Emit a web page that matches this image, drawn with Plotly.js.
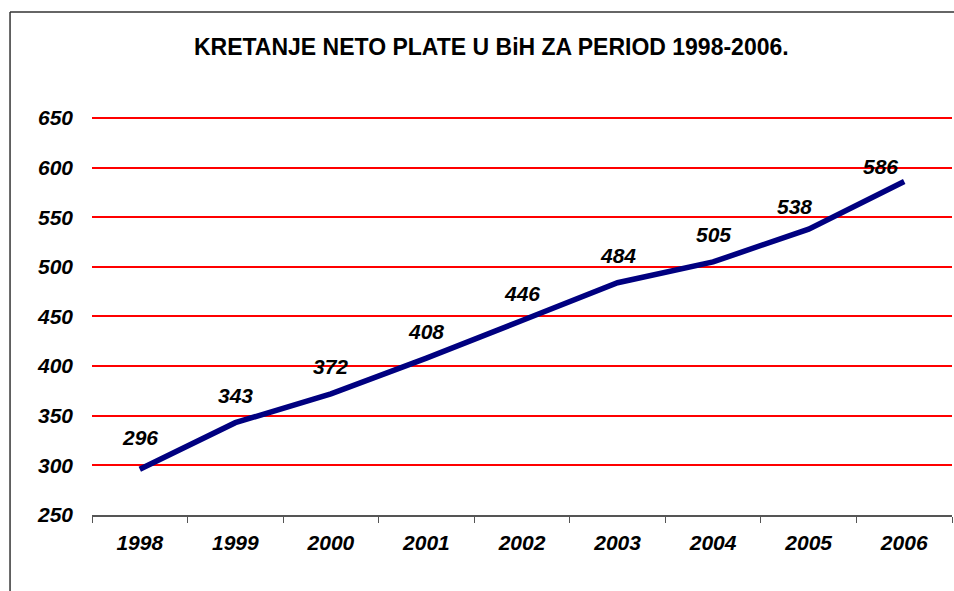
<!DOCTYPE html>
<html>
<head>
<meta charset="utf-8">
<script src="https://cdn.plot.ly/plotly-3.0.1.min.js"></script>
<style>html,body{margin:0;padding:0;background:#fff;}#chart{width:954px;height:591px;}</style>
</head>
<body>
<div id="chart"></div>
<script>
const years = ['1998','1999','2000','2001','2002','2003','2004','2005','2006'];
const netSalary = [296, 343, 372, 408, 446, 484, 505, 538, 586];
const yTicks = [250, 300, 350, 400, 450, 500, 550, 600, 650];

const fontFam = 'Liberation Sans, Arial, sans-serif';
function labelFont(sz) { return {family: fontFam, size: sz, color: '#000', weight: 'bold', style: 'italic'}; }

const trace = {
  x: years, y: netSalary, type: 'scatter', mode: 'lines',
  line: {color: '#000080', width: 5.5},
  hoverinfo: 'skip'
};

const last = years.length - 1;
const annotations = years.map((yr, i) => ({
  x: i, y: netSalary[i], xref: 'x', yref: 'y',
  text: String(netSalary[i]), showarrow: false,
  xanchor: 'center', yanchor: 'middle',
  yshift: i === last ? 15 : (i === last - 1 ? 23 : (i === 0 ? 32 : 27)),
  xshift: i === last ? -24 : (i === last - 1 ? -14 : 0),
  font: labelFont(21)
}));

const layout = {
  width: 954, height: 591,
  margin: {l: 92, r: 2, t: 116, b: 76},
  paper_bgcolor: '#fff', plot_bgcolor: '#fff',
  showlegend: false,
  title: {
    text: 'KRETANJE NETO PLATE U BiH ZA PERIOD 1998-2006.',
    font: {family: fontFam, size: 23, color: '#000', weight: 'bold'},
    x: 0.515, xanchor: 'center', y: 0.92, yanchor: 'middle'
  },
  xaxis: {
    type: 'category', range: [-0.5, 8.5],
    tickson: 'boundaries', ticks: 'outside', ticklen: 6, tickcolor: '#555', tickwidth: 1,
    showline: true, linecolor: '#555', linewidth: 1.5,
    showgrid: false, zeroline: false,
    tickfont: labelFont(21), ticklabelstandoff: 8,
    fixedrange: true
  },
  yaxis: {
    range: [250, 652], tickvals: yTicks, ticktext: yTicks.map(String),
    showline: false, ticks: '', showgrid: true, gridcolor: '#ff0000', gridwidth: 2,
    zeroline: false, tickfont: labelFont(21), ticklabelstandoff: 18,
    fixedrange: true
  },
  shapes: [
    {type: 'line', xref: 'paper', yref: 'y', x0: 0, x1: 1, y0: yTicks[yTicks.length - 1], y1: yTicks[yTicks.length - 1],
     line: {color: '#ff0000', width: 2}, layer: 'below'},
    {type: 'line', xref: 'paper', yref: 'paper', x0: -0.0953, x1: 1.01, y0: 1.2607, y1: 1.2607,
     line: {color: '#333', width: 1.5}},
    {type: 'line', xref: 'paper', yref: 'paper', x0: -0.0953, x1: -0.0953, y0: 1.2607, y1: -0.2,
     line: {color: '#333', width: 1.5}}
  ],
  annotations: annotations
};

Plotly.newPlot('chart', [trace], layout, {displayModeBar: false});
</script>
</body>
</html>
